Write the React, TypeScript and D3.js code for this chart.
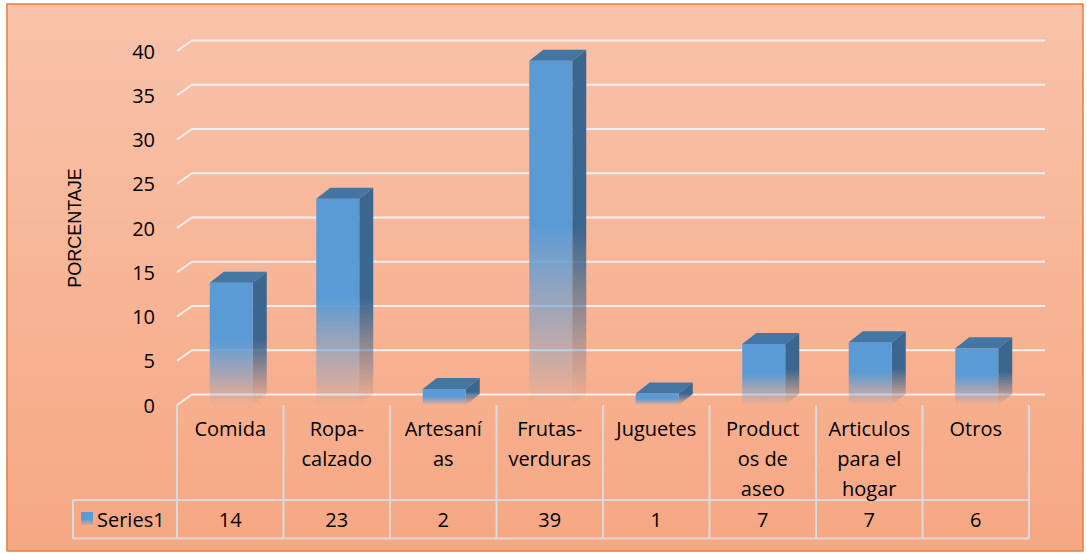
import React from "react";
import * as d3 from "d3";

const categories = ["Comida", "Ropa-calzado", "Artesanías", "Frutas-verduras", "Juguetes", "Productos de aseo", "Articulos para el hogar", "Otros"];
const categoryLines = [["Comida"], ["Ropa-", "calzado"], ["Artesaní", "as"], ["Frutas-", "verduras"], ["Juguetes"], ["Product", "os de", "aseo"], ["Articulos", "para el", "hogar"], ["Otros"]];
const series1 = [13.8, 23.3, 1.8, 38.9, 1.3, 6.9, 7.1, 6.4];
const seriesName = "Series1";
const yTicks = [0, 5, 10, 15, 20, 25, 30, 35, 40];
const axisTitle = "PORCENTAJE";

const W = 1087, H = 554;
const FONT = "'Open Sans', 'Liberation Sans', sans-serif";

export default function App() {
  const x = d3.scaleBand<string>().domain(categories).range([177, 1029]);
  const y = d3.scaleLinear().domain([0, 40]).range([405, 51]);
  const gdx = 15, gdy = -10.5; // wall depth
  const bdx = 14, bdy = -11; // bar depth
  const bw = 43;
  const xRight = 1045;
  const tableTop = y(0);
  const rowTop = 500, rowBot = 538.5, tableLeft = 73;
  const gridColor = "#EFEFEF";
  const tableColor = "#DADADA";
  const fs = 20;

  return (
    <svg width={W} height={H} style={{ position: "absolute", left: 0, top: 0 }} fontFamily={FONT}>
      <defs>
        <linearGradient id="bg" x1="0" y1="0" x2="0" y2="1">
          <stop offset="0" stopColor="#F8C3AA" />
          <stop offset="1" stopColor="#F6A783" />
        </linearGradient>
        <linearGradient id="front" x1="0" y1="0" x2="0" y2="1">
          <stop offset="0" stopColor="#5B9BD5" stopOpacity={1} />
          <stop offset="0.48" stopColor="#5B9BD5" stopOpacity={1} />
          <stop offset="0.9" stopColor="#5B9BD5" stopOpacity={0.22} />
          <stop offset="1" stopColor="#5B9BD5" stopOpacity={0} />
        </linearGradient>
        <linearGradient id="side" x1="0" y1="0" x2="0" y2="1">
          <stop offset="0" stopColor="#3A6690" stopOpacity={1} />
          <stop offset="0.5" stopColor="#3A6690" stopOpacity={1} />
          <stop offset="0.9" stopColor="#3A6690" stopOpacity={0.2} />
          <stop offset="1" stopColor="#3A6690" stopOpacity={0} />
        </linearGradient>
        <linearGradient id="legendG" x1="0" y1="0" x2="0" y2="1">
          <stop offset="0" stopColor="#5B9BD5" />
          <stop offset="0.55" stopColor="#5B9BD5" />
          <stop offset="1" stopColor="#5B9BD5" stopOpacity={0.15} />
        </linearGradient>
      </defs>
      <rect x={7} y={4} width={1076} height={547} fill="url(#bg)" stroke="#ED7D31" strokeWidth={1.5} />

      {/* gridlines on back wall */}
      {yTicks.map((t) => (
        <path key={"g" + t} d={`M${x.range()[0]},${y(t)}L${x.range()[0] + gdx},${y(t) + gdy}H${xRight}`} fill="none" stroke={gridColor} strokeWidth={2} />
      ))}

      {/* y tick labels */}
      {yTicks.map((t) => (
        <text key={"t" + t} x={155} y={y(t)} textAnchor="end" dominantBaseline="central" fontSize={fs} fill="#000">{t}</text>
      ))}
      <text transform={`translate(81,228) rotate(-90)`} textAnchor="middle" fontSize={18} fontFamily="'Liberation Sans', Arial, sans-serif" fill="#000">{axisTitle}</text>

      {/* bars */}
      {categories.map((c, i) => {
        const cx = x(c)! + x.bandwidth() / 2 + 1;
        const x0 = cx - bw / 2, x1 = cx + bw / 2;
        const yt = y(series1[i]), yb = y(0);
        return (
          <g key={"b" + c}>
            <path d={`M${x1},${yt}L${x1 + bdx},${yt + bdy}L${x1 + bdx},${yb + bdy}L${x1},${yb}Z`} fill="url(#side)" />
            <rect x={x0} y={yt} width={bw} height={yb - yt} fill="url(#front)" />
            <path d={`M${x0},${yt}L${x0 + bdx},${yt + bdy}L${x1 + bdx},${yt + bdy}L${x1},${yt}Z`} fill="#4476A4" />
          </g>
        );
      })}

      {/* data table */}
      {d3.range(categories.length + 1).map((k) => {
        const xx = x.range()[0] + k * x.bandwidth();
        return <line key={"v" + k} x1={xx} x2={xx} y1={tableTop} y2={rowBot} stroke={tableColor} strokeWidth={2} />;
      })}
      <line x1={tableLeft} x2={x.range()[1]} y1={rowTop} y2={rowTop} stroke={tableColor} strokeWidth={2} />
      <line x1={tableLeft} x2={x.range()[1]} y1={rowBot} y2={rowBot} stroke={tableColor} strokeWidth={2} />
      <line x1={tableLeft} x2={tableLeft} y1={rowTop} y2={rowBot} stroke={tableColor} strokeWidth={2} />

      {categories.map((c, i) => {
        const cx = x(c)! + x.bandwidth() / 2;
        return (
          <g key={"l" + c}>
            {categoryLines[i].map((ln, j) => (
              <text key={j} x={cx} y={428 + j * 30} textAnchor="middle" dominantBaseline="central" fontSize={fs} fill="#000">{ln}</text>
            ))}
            <text x={cx} y={519} textAnchor="middle" dominantBaseline="central" fontSize={fs} fill="#000">{Math.round(series1[i])}</text>
          </g>
        );
      })}
      <rect x={81} y={512} width={12} height={13} fill="url(#legendG)" />
      <text x={97} y={519} dominantBaseline="central" fontSize={fs} fill="#000">{seriesName}</text>
    </svg>
  );
}
